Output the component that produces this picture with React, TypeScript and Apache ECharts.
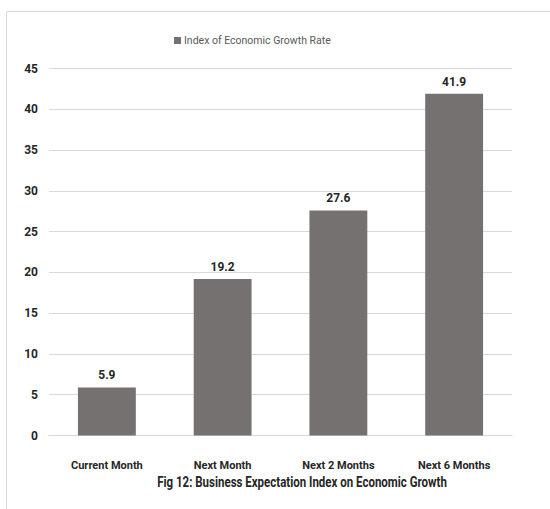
import React, { useEffect, useRef } from "react";
import * as echarts from "echarts";

const categories = ["Current Month", "Next Month", "Next 2 Months", "Next 6 Months"];
const values = [5.9, 19.2, 27.6, 41.9];
const seriesName = "Index of Economic Growth Rate";
const chartTitle = "Fig 12: Business Expectation Index on Economic Growth";

const FONT = "Roboto, 'Noto Sans', sans-serif";
const TITLE_FONT = `bold 15px ${FONT}`;

function measure(text: string, font: string): number {
  const c = document.createElement("canvas");
  const ctx = c.getContext("2d");
  if (!ctx) return 290;
  ctx.font = font;
  return ctx.measureText(text).width || 290;
}

export default function App() {
  const ref = useRef<HTMLDivElement>(null);
  useEffect(() => {
    if (!ref.current) return;
    const chart = echarts.init(ref.current, undefined, { renderer: "svg" });
    const titleScale = Math.min(1, 290 / measure(chartTitle, TITLE_FONT));
    chart.setOption({
      animation: false,
      backgroundColor: "#ffffff",
      textStyle: { fontFamily: FONT },
      legend: {
        data: [seriesName],
        left: 174,
        top: 35,
        padding: 0,
        itemWidth: 7,
        itemHeight: 7,
        itemGap: 4,
        icon: "rect",
        textStyle: { color: "#595959", fontSize: 10.5, fontFamily: FONT, padding: [0, 0, 0, -2] },
      },
      grid: { left: 49, right: 38, top: 68.5, bottom: 73.5, containLabel: false },
      xAxis: {
        type: "category",
        data: categories,
        axisLine: { show: true, lineStyle: { color: "#d9d9d9" } },
        axisTick: { show: false },
        axisLabel: {
          interval: 0,
          color: "#262626",
          fontWeight: "bold",
          fontSize: 11,
          margin: 24,
          fontFamily: FONT,
        },
      },
      yAxis: {
        type: "value",
        min: 0,
        max: 45,
        interval: 5,
        axisLine: { show: false },
        axisTick: { show: false },
        splitLine: { lineStyle: { color: "#d9d9d9" } },
        axisLabel: { color: "#262626", fontWeight: "bold", fontSize: 12, margin: 11, fontFamily: FONT },
      },
      series: [
        {
          name: seriesName,
          type: "bar",
          data: values,
          barWidth: "50%",
          itemStyle: { color: "#767171" },
          label: {
            show: true,
            position: "top",
            distance: 6,
            color: "#262626",
            fontWeight: "bold",
            fontSize: 12,
            fontFamily: FONT,
          },
        },
      ],
      graphic: [
        {
          type: "rect",
          shape: { x: 6.5, y: 11.5, width: 700, height: 700 },
          style: { fill: "none", stroke: "#d9d9d9", lineWidth: 1 },
          silent: true,
          z: -1,
        },
        {
          type: "text",
          x: 302,
          y: 482,
          scaleX: titleScale,
          style: {
            text: chartTitle,
            fill: "#262626",
            font: TITLE_FONT,
            align: "center",
            verticalAlign: "middle",
          },
        },
      ],
    });
    return () => chart.dispose();
  }, []);
  return (
    <div
      ref={ref}
      style={{ position: "absolute", left: 0, top: 0, width: 550, height: 509 }}
    />
  );
}
